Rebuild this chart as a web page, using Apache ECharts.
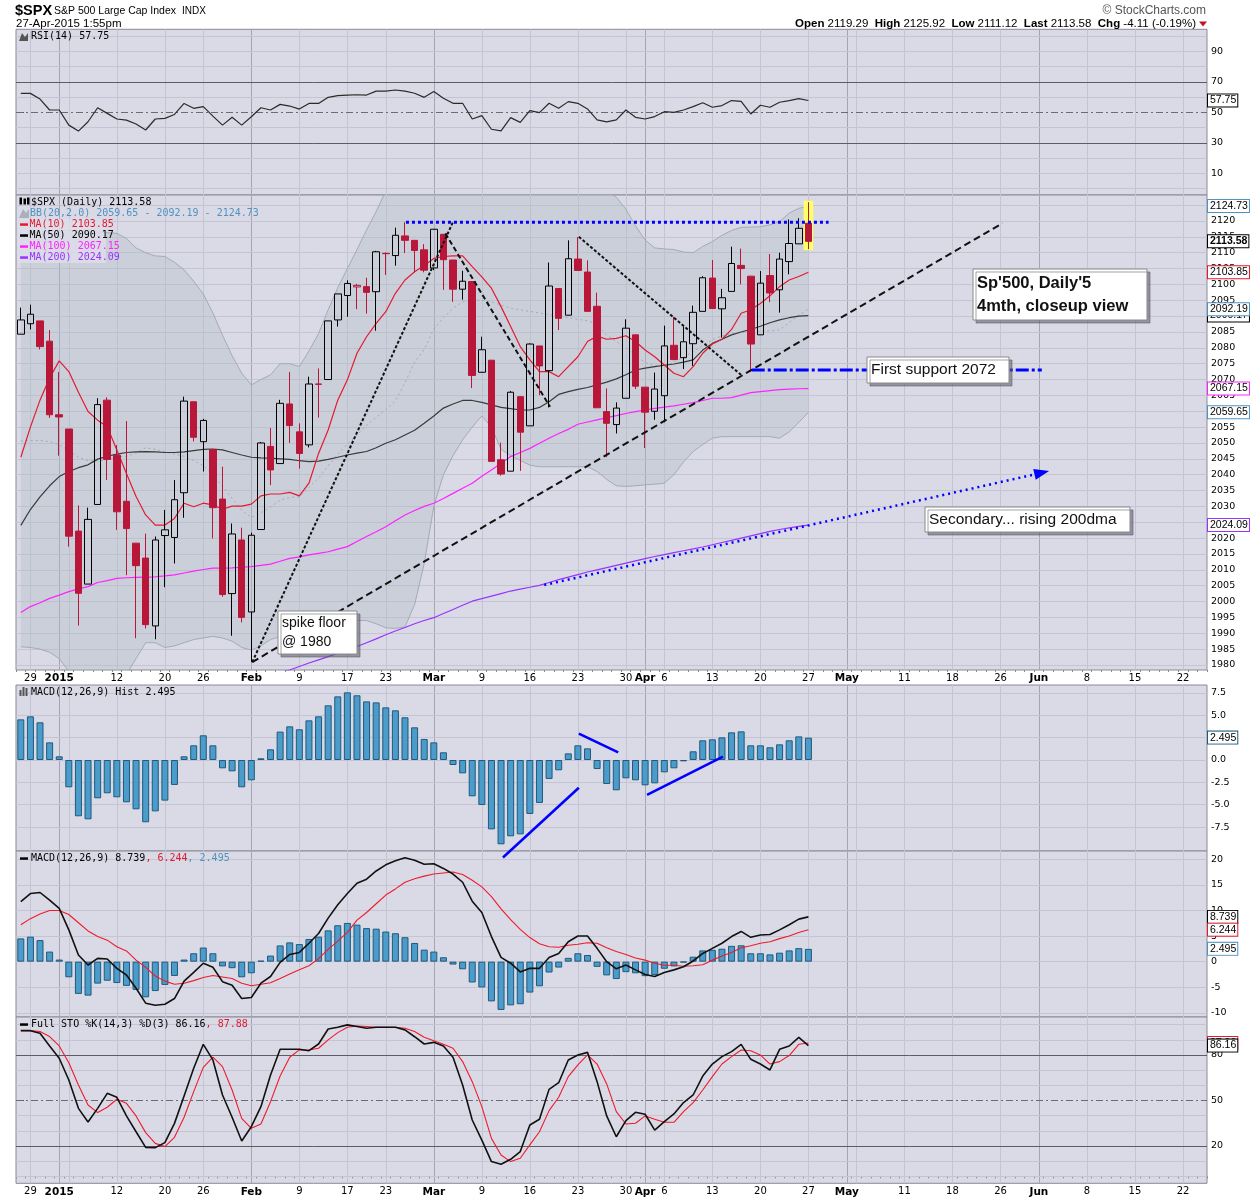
<!DOCTYPE html>
<html>
<head>
<meta charset="utf-8">
<title>$SPX S&amp;P 500 Large Cap Index - Daily</title>
<script src="https://cdn.jsdelivr.net/npm/echarts@6.0.0/dist/echarts.min.js"></script>
<style>
  html, body { margin: 0; padding: 0; background: #ffffff; }
  #chart { width: 1250px; height: 1200px; }
</style>
</head>
<body>
<div id="chart"></div>
<script>
// ---------- categories ----------
var dates = [
  '2014-12-26','2014-12-29','2014-12-30','2014-12-31',
  '2015-01-02','2015-01-05','2015-01-06','2015-01-07','2015-01-08','2015-01-09',
  '2015-01-12','2015-01-13','2015-01-14','2015-01-15','2015-01-16',
  '2015-01-20','2015-01-21','2015-01-22','2015-01-23',
  '2015-01-26','2015-01-27','2015-01-28','2015-01-29','2015-01-30',
  '2015-02-02','2015-02-03','2015-02-04','2015-02-05','2015-02-06',
  '2015-02-09','2015-02-10','2015-02-11','2015-02-12','2015-02-13',
  '2015-02-17','2015-02-18','2015-02-19','2015-02-20',
  '2015-02-23','2015-02-24','2015-02-25','2015-02-26','2015-02-27',
  '2015-03-02','2015-03-03','2015-03-04','2015-03-05','2015-03-06',
  '2015-03-09','2015-03-10','2015-03-11','2015-03-12','2015-03-13',
  '2015-03-16','2015-03-17','2015-03-18','2015-03-19','2015-03-20',
  '2015-03-23','2015-03-24','2015-03-25','2015-03-26','2015-03-27',
  '2015-03-30','2015-03-31','2015-04-01','2015-04-02',
  '2015-04-06','2015-04-07','2015-04-08','2015-04-09','2015-04-10',
  '2015-04-13','2015-04-14','2015-04-15','2015-04-16','2015-04-17',
  '2015-04-20','2015-04-21','2015-04-22','2015-04-23','2015-04-24',
  '2015-04-27'
];
var futureDates = [
  '2015-04-28','2015-04-29','2015-04-30','2015-05-01',
  '2015-05-04','2015-05-05','2015-05-06','2015-05-07','2015-05-08',
  '2015-05-11','2015-05-12','2015-05-13','2015-05-14','2015-05-15',
  '2015-05-18','2015-05-19','2015-05-20','2015-05-21','2015-05-22',
  '2015-05-26','2015-05-27','2015-05-28','2015-05-29',
  '2015-06-01','2015-06-02','2015-06-03','2015-06-04','2015-06-05',
  '2015-06-08','2015-06-09','2015-06-10','2015-06-11','2015-06-12',
  '2015-06-15','2015-06-16','2015-06-17','2015-06-18','2015-06-19',
  '2015-06-22','2015-06-23','2015-06-24'
];
var xTickLabels = {
  '2014-12-29':'29','2015-01-02':'2015','2015-01-12':'12','2015-01-20':'20','2015-01-26':'26',
  '2015-02-02':'Feb','2015-02-09':'9','2015-02-17':'17','2015-02-23':'23',
  '2015-03-02':'Mar','2015-03-09':'9','2015-03-16':'16','2015-03-23':'23','2015-03-30':'30',
  '2015-04-01':'Apr','2015-04-06':'6','2015-04-13':'13','2015-04-20':'20','2015-04-27':'27',
  '2015-05-01':'May','2015-05-11':'11','2015-05-18':'18','2015-05-26':'26',
  '2015-06-01':'Jun','2015-06-08':'8','2015-06-15':'15','2015-06-22':'22'
};
var boldTickLabels = ['2015','Feb','Mar','Apr','May','Jun'];
var weekLines = ['2014-12-29','2015-01-05','2015-01-12','2015-01-20','2015-01-26','2015-02-09','2015-02-17',
  '2015-02-23','2015-03-09','2015-03-16','2015-03-23','2015-03-30','2015-04-06','2015-04-13','2015-04-20',
  '2015-04-27','2015-05-04','2015-05-11','2015-05-18','2015-05-26','2015-06-08','2015-06-15','2015-06-22'];
var monthLines = ['2015-01-02','2015-02-02','2015-03-02','2015-04-01','2015-05-01','2015-06-01'];

// ---------- price ----------
var opens = [2084.3,2087.6,2088.5,2082.1,2058.9,2054.4,2022.2,2005.5,2030.6,2063.5,
  2046.1,2031.6,2018.4,2013.7,1992.3,2020.8,2020.2,2034.3,2063.0,2050.4,
  2047.9,2032.3,2002.5,2019.4,1996.7,2022.7,2048.9,2043.5,2062.3,2053.5,
  2049.4,2068.6,2070.0,2088.8,2096.5,2099.2,2099.3,2097.7,2109.8,2109.1,
  2115.3,2113.9,2110.9,2105.2,2115.8,2107.7,2098.5,2100.9,2072.3,2076.1,
  2044.7,2041.1,2064.6,2055.4,2080.6,2072.8,2098.7,2090.3,2108.0,2103.9,
  2093.1,2059.9,2055.8,2064.1,2084.1,2067.6,2060.0,2064.9,2080.8,2076.9,
  2081.3,2091.5,2102.0,2092.3,2097.8,2106.0,2102.6,2084.1,2102.8,2098.3,
  2107.2,2112.8,2119.29];
var highs = [2092.7,2093.6,2088.5,2085.6,2072.4,2054.4,2030.3,2029.6,2064.1,2064.4,
  2049.3,2056.9,2018.4,2021.4,2020.5,2028.9,2038.3,2064.6,2063.0,2057.6,
  2047.9,2042.5,2024.6,2023.3,2021.7,2050.3,2054.7,2063.6,2072.4,2056.2,
  2070.9,2073.5,2088.5,2097.0,2101.3,2100.2,2102.1,2110.6,2110.1,2117.9,
  2119.6,2113.9,2112.7,2117.5,2115.8,2107.7,2104.3,2100.9,2083.5,2076.1,
  2050.1,2066.4,2064.6,2081.4,2080.6,2106.9,2098.7,2113.9,2114.9,2107.6,
  2097.4,2067.2,2062.8,2089.0,2084.1,2067.6,2072.2,2087.0,2089.8,2086.7,
  2093.3,2102.6,2107.7,2098.6,2111.9,2111.3,2102.6,2104.2,2109.6,2110.0,
  2120.5,2120.9,2125.92];
var lows = [2084.3,2085.8,2079.5,2057.9,2046.0,2017.3,1992.4,2005.5,2030.6,2038.3,
  2022.6,2008.3,1988.4,1991.5,1988.1,2004.5,2012.0,2026.4,2050.5,2041.0,
  2019.9,2001.5,1989.2,1993.4,1980.9,2022.7,2036.7,2043.5,2050.0,2041.9,
  2048.6,2058.0,2070.0,2086.7,2089.8,2092.2,2090.8,2085.4,2103.0,2105.9,
  2109.9,2103.8,2103.8,2104.5,2098.3,2094.5,2095.2,2067.3,2072.2,2044.2,
  2039.7,2041.1,2041.2,2055.4,2065.1,2061.2,2085.6,2090.3,2104.4,2091.5,
  2061.1,2045.5,2053.0,2064.1,2067.0,2048.4,2057.3,2056.5,2076.1,2073.3,
  2074.3,2091.5,2092.3,2083.2,2097.8,2100.0,2072.4,2084.1,2094.4,2091.1,
  2103.2,2112.8,2111.12];
var closes = [2088.8,2090.6,2080.4,2058.9,2058.2,2020.6,2002.6,2025.9,2062.1,2044.8,
  2028.3,2023.0,2011.3,1992.7,2019.4,2022.6,2032.1,2063.2,2051.8,2057.1,
  2029.6,2002.2,2021.3,1995.0,2020.9,2050.0,2041.5,2062.5,2055.5,2046.7,
  2068.6,2068.5,2088.5,2097.0,2100.3,2099.7,2097.5,2110.3,2109.7,2115.5,
  2113.9,2110.7,2104.5,2117.4,2107.8,2098.5,2101.0,2071.3,2079.4,2044.2,
  2040.2,2066.0,2053.4,2081.2,2074.3,2099.5,2089.3,2108.1,2104.4,2091.5,
  2061.1,2056.2,2061.0,2086.2,2067.9,2059.7,2067.0,2080.6,2076.3,2081.9,
  2091.2,2102.1,2092.4,2095.8,2106.6,2105.0,2081.2,2100.4,2097.3,2108.0,
  2112.9,2117.7,2113.58];

// ---------- overlays ----------
var ma10 = [2045.5,2055,2063.5,2070.5,2075.9,2072.5,2066,2059.9,2057.2,2055.1,
  2047.8,2040.4,2033.1,2027.3,2024.1,2024.1,2026.2,2031.0,2029.9,2031.0,
  2030.5,2029.1,2030.1,2030.1,2030.7,2033.3,2033.9,2033.9,2034.4,2033.3,
  2037.3,2046.7,2054.1,2063.5,2069.9,2078.3,2083.5,2087.7,2091.4,2097.2,
  2101.4,2104.0,2106.0,2108.2,2108.8,2109.0,2109.0,2105.6,2102.4,2098.8,
  2093.0,2086.7,2080.4,2076.2,2072.5,2072.5,2070.9,2074.1,2077.2,2082.0,
  2083.7,2082.7,2083.0,2083.8,2082.0,2079.3,2077.2,2074.6,2072.0,2070.9,
  2074.1,2078.3,2081.2,2082.7,2085.8,2090.9,2092.0,2094.0,2096.4,2099.3,
  2101.4,2102.5,2103.85];
var ma50 = [2024,2029,2033,2036.5,2039.4,2041,2042.2,2043.1,2044.9,2045.8,
  2046.5,2047,2047.2,2047.3,2047.2,2047,2047,2047.2,2047.6,2048,
  2048.1,2047.8,2047,2046.2,2045.5,2045.3,2045.2,2045,2044.8,2044.4,
  2044.1,2044.3,2044.8,2045.5,2046.2,2046.8,2047.3,2048.5,2049.9,2051,
  2052.5,2054,2056.2,2058.5,2061,2062.3,2063.4,2063.4,2062.8,2062,
  2061.2,2060.8,2060.4,2060.4,2061.2,2063,2065.3,2066.2,2066.9,2067.5,
  2068.3,2069.2,2070.2,2071.5,2073,2073.6,2074.1,2074.5,2074.9,2075.5,
  2076.2,2079.3,2081.4,2082.7,2084.1,2085,2085.8,2086.8,2087.9,2088.8,
  2089.5,2090,2090.17];
var ma100 = [1996.5,1998.4,1999.6,2001.0,2002.0,2003.1,2004.0,2004.7,2006.0,2006.6,
  2007.3,2007.5,2007.6,2007.7,2007.8,2008.1,2008.4,2009.0,2009.6,2010.1,
  2010.5,2010.5,2010.6,2010.8,2011.0,2011.4,2011.8,2012.7,2013.6,2014.1,
  2014.7,2015.2,2015.7,2016.5,2017.3,2018.9,2020.5,2022.0,2023.6,2025.5,
  2027.3,2028.7,2030.0,2031.0,2032.5,2034.1,2035.7,2037.3,2039.5,2041.5,
  2043.6,2045.7,2047.0,2048.3,2049.9,2051.5,2053.0,2054.3,2055.9,2056.6,
  2057.3,2058.0,2058.6,2059.3,2059.9,2060.4,2060.9,2061.3,2061.7,2062.2,
  2062.7,2063.4,2064.1,2064.1,2064.3,2065.1,2065.9,2066.2,2066.5,2066.8,
  2067.0,2067.1,2067.15];
var ma200 = [1957.0,1957.8,1958.6,1959.4,1960.2,1961.0,1961.8,1962.6,1963.4,1964.2,
  1965.0,1965.8,1966.6,1967.4,1968.2,1969.0,1969.8,1970.6,1971.4,1972.2,
  1973.0,1973.7,1974.4,1975.1,1975.8,1976.5,1977.0,1977.6,1978.4,1979.5,
  1980.6,1981.6,1982.6,1983.7,1984.7,1985.8,1987.0,1988.2,1989.5,1990.7,
  1991.8,1993.0,1994.0,1994.9,1996.2,1997.5,1998.8,2000.1,2000.9,2001.7,
  2002.5,2003.3,2003.9,2004.5,2005.1,2006.0,2006.9,2007.7,2008.5,2009.3,
  2010.0,2010.7,2011.4,2012.1,2012.8,2013.5,2014.2,2014.8,2015.4,2016.0,
  2016.6,2017.2,2017.9,2018.6,2019.3,2020.0,2020.7,2021.4,2022.1,2022.7,
  2023.2,2023.7,2024.09];
var bbUpper = [2115.5,2116,2116.5,2116.8,2117,2117,2117,2116.8,2116.5,2116.3,
  2116.1,2114.5,2111.5,2110,2109,2108.8,2107,2104.6,2101,2097,
  2091,2084,2077.5,2072,2068.3,2070,2071.5,2075,2075,2074.1,
  2079,2084.5,2092,2099,2105,2111,2117.2,2123,2129.5,2135,
  2146,2152,2147,2142,2139,2139,2138,2135,2131.5,2134,
  2139,2139,2139.5,2140,2139.5,2138.5,2137.5,2136.5,2135.5,2134.5,
  2134,2129.5,2127.5,2123.7,2118.5,2114,2111.5,2111.2,2111,2110.2,
  2110,2112,2113.5,2115.5,2117,2118,2118.1,2118.2,2118.8,2119.8,
  2122.5,2124,2124.73];
var bbMid = [2050.6,2050.8,2050.8,2050.4,2049.5,2047.5,2045.5,2044.4,2044.3,2044.7,
  2045.6,2045.8,2046.8,2048.5,2048,2047.2,2046.5,2045.8,2044.5,2042.8,
  2040,2036.3,2032.5,2028.8,2026.5,2028,2029.8,2032,2032.8,2033,
  2036,2038.9,2042.8,2046.5,2049.6,2052.5,2055.6,2058,2060.6,2063.2,
  2069,2075.5,2079.5,2086,2089.5,2092.5,2094.5,2095,2095,2094.5,
  2093.5,2092.5,2092,2091.5,2091,2090.5,2090,2089.5,2089,2088.5,
  2087.5,2084,2082,2080,2077.5,2075.4,2074.3,2074.3,2075.5,2077.1,
  2078.7,2080.8,2082.5,2083.8,2084.5,2085,2085,2085.1,2085.4,2085.7,
  2088,2090.3,2092.19];
var bbLower = [1985.7,1985.5,1985,1984,1982,1978,1974,1972,1972,1973,
  1975,1977,1982,1987,1987,1985.5,1986,1987,1988,1988.5,
  1989,1988.5,1987.5,1985.5,1984.7,1986,1988,1989,1990.5,1992,
  1993,1993.2,1993.5,1994,1994.2,1994,1994,1993,1991.7,1991.5,
  1992,1999,2012,2030,2040,2046,2051,2055,2058.5,2055,
  2048,2046,2044.5,2043,2042.5,2042.5,2042.5,2042.5,2042.5,2042.5,
  2041,2038.5,2036.5,2036.3,2036.5,2036.8,2037,2037.3,2040,2044,
  2047.3,2049.5,2051.5,2052,2052,2052,2052,2052,2052,2051.5,
  2053.5,2056.5,2059.65];

// ---------- indicators ----------
var rsi = [62.4,62.4,58.7,51.5,51.5,41.6,37.7,43.8,53.0,49.3,
  45.6,44.9,42.3,38.4,45.6,46.0,48.6,55.8,52.6,53.7,
  47.5,41.6,46.7,41.6,47.1,53.0,51.5,55.2,54.1,52.1,
  55.8,55.8,59.8,60.9,61.3,61.5,61.3,63.9,63.9,64.6,
  63.9,62.5,59.8,63.6,59.2,55.9,55.9,45.6,47.8,38.9,
  37.8,46.5,43.4,51.1,49.8,55.9,52.6,57.0,55.9,52.2,
  45.0,43.7,45.0,51.5,46.7,45.6,47.2,50.4,50.0,51.5,
  53.7,56.3,53.3,54.4,57.7,57.2,48.9,54.6,53.3,56.6,
  57.7,59.0,57.75];
var macdLine = [11.7,13.3,13.5,12.0,10.4,6.2,1.3,-0.65,0.65,0.52,
  -1.3,-2.6,-5.2,-8.1,-8.5,-8.3,-7.2,-3.8,-2.1,-0.3,
  -1.1,-3.9,-4.6,-7.2,-7.0,-4.2,-2.9,-0.13,1.4,1.8,
  3.6,5.5,8.5,11.1,13.3,15.3,16.1,17.7,18.9,19.7,
  20.3,19.8,19.0,19.1,18.2,17.1,15.5,11.8,9.6,4.9,
  0.85,-0.3,-2.0,-1.3,-1.3,0.8,1.6,3.9,5.0,5.0,
  2.6,0.0,-1.4,-0.65,-1.6,-2.5,-2.9,-2.1,-1.6,-1.0,
  0.13,1.6,2.6,3.6,4.9,5.9,4.75,5.2,5.3,6.2,
  7.2,8.3,8.739];
var macdSignal = [7.2,8.4,9.3,10.0,10.0,9.2,7.6,6.0,4.9,4.2,
  2.9,2.1,0.3,-1.1,-2.8,-3.8,-4.4,-4.2,-3.7,-3.1,
  -2.7,-3.0,-3.3,-4.2,-4.7,-4.4,-4.1,-3.3,-2.4,-1.6,
  -0.8,0.6,2.4,4.0,5.7,8.1,9.6,11.3,13.0,14.2,
  15.5,16.2,16.7,17.1,17.3,17.5,17.0,15.9,14.6,12.7,
  10.3,8.2,6.3,4.7,3.5,2.9,2.8,3.2,3.4,3.7,
  3.6,2.7,2.0,1.4,0.7,0.3,-0.3,-0.7,-0.7,-0.9,
  -0.8,-0.6,0.3,1.1,1.8,2.7,3.1,3.6,3.9,4.5,
  5.0,5.7,6.244];
var macdHist = [4.54,4.88,4.21,1.97,0.41,-3.05,-6.29,-6.63,-4.28,-3.72,
  -4.17,-4.73,-5.51,-6.96,-5.74,-4.54,-2.79,0.41,1.64,2.76,
  1.64,-0.93,-1.27,-3.05,-2.27,0.19,1.19,3.17,3.76,3.43,
  4.43,4.88,6.11,7.11,7.56,7.23,6.55,6.44,5.88,5.55,
  4.77,3.65,2.35,1.97,0.86,-0.56,-1.49,-4.06,-5.03,-7.75,
  -9.42,-8.53,-8.31,-6.03,-4.80,-2.12,-1.15,0.74,1.64,1.30,
  -1.01,-2.68,-3.39,-2.05,-2.27,-2.83,-2.61,-1.38,-0.93,-0.15,
  0.97,2.20,2.31,2.53,3.09,3.20,1.64,1.64,1.42,1.75,
  2.20,2.64,2.495];
var stoK = [96.0,96.0,94.3,85.9,77.8,63.5,44.8,35.8,44.8,54.7,
  52.1,39.8,29.4,19.1,18.9,22.2,34.9,53.0,71.2,87.0,
  76.7,53.6,38.9,23.3,32.7,45.9,66.8,83.7,83.7,83.7,
  82.8,87.2,97.1,98.2,99.8,98.7,97.6,98.2,98.2,98.2,
  96.5,92.0,87.2,88.3,85.9,78.5,60.2,37.1,23.9,9.7,
  7.9,11.2,16.3,33.8,37.6,57.3,61.7,76.7,80.0,81.7,
  62.4,39.8,26.1,36.7,42.2,40.9,30.5,36.0,41.1,48.6,
  53.6,66.1,74.0,78.9,82.2,87.0,77.1,74.0,70.1,83.7,
  85.9,91.6,86.16];
var stoD = [96.0,96.0,95.4,92.1,85.9,74.9,60.2,47.0,42.0,45.5,
  50.8,48.1,39.8,28.8,21.7,19.6,25.7,38.9,55.8,71.8,
  78.5,72.3,56.9,38.2,31.6,34.5,49.2,66.1,78.5,83.3,
  83.3,84.4,89.9,94.7,98.2,99.1,98.7,98.2,98.2,98.2,
  97.6,95.4,91.6,89.4,87.0,84.4,75.6,62.4,45.9,25.0,
  14.1,9.7,11.9,20.7,29.4,43.3,52.1,65.7,73.4,80.0,
  74.0,60.9,42.6,34.5,35.0,39.8,37.6,35.6,35.6,42.6,
  48.6,56.9,65.7,74.0,78.9,83.3,82.8,80.0,74.0,75.6,
  79.6,87.0,87.88];

// ---------- axis ticks ----------
var rsiTicks = [10, 30, 50, 70, 90];
var priceTicks = [1980,1985,1990,1995,2000,2005,2010,2015,2020,2025,2030,2035,2040,2045,2050,
  2055,2060,2065,2070,2075,2080,2085,2090,2095,2100,2105,2110,2115,2120,2125];
var histTicks = [-7.5, -5, -2.5, 0, 2.5, 5, 7.5];
var macdTicks = [-10, -5, 0, 5, 10, 15, 20];
var stoTicks = [20, 50, 80];

// ---------- hand-drawn annotations: [day index, value] ----------
var resistanceLine = [[40.1, 2119.6], [84.1, 2119.6]];
var spikeRiseLine = [[24.1, 1980.9], [45.0, 2119.7]];
var marchDownLine = [[44.2, 2116.1], [55.1, 2061.4]];
var lateMarchDownLine = [[58.1, 2115.0], [75.1, 2071.2]];
var risingSupportLine = [[24.1, 1980.9], [102.2, 2119.3]];
var firstSupportLine = [[76.1, 2073.0], [106.3, 2073.0]];
var ma200Projection = [[54.5, 2005.2], [106.3, 2040.6]];
var histLineA = [[50.2, -10.9], [58.1, -3.1]];
var histLineB = [[58.1, 2.94], [62.2, 0.86]];
var histLineC = [[65.2, -3.91], [73.1, 0.37]];
var lastBarBox = [[82, 2126.4, 2110.8]];

// ---------- styling ----------
var allDates = dates.concat(futureDates);
var N = allDates.length;
var BG = '#dadae6', GRID = '#c4c4d3', MONTH = '#a4a4b4', RED = '#b8173a';
var TICK_FONT = 'DejaVu Sans';
var MONO = 'DejaVu Sans Mono';
var SANS = 'Liberation Sans';
var BB_BLUE = '#4f93c0';
var CLEAR = 'rgba(0,0,0,0)';

var panels = [
  { top: 29.3, height: 165.7, min: -4.2, max: 104.4, ticks: rsiTicks },
  { top: 195, height: 475, min: 1978.4, max: 2128.2, ticks: priceTicks },
  { top: 685, height: 166, min: -10.17, max: 8.38, ticks: histTicks },
  { top: 851, height: 166, min: -10.8, max: 21.6, ticks: macdTicks },
  { top: 1017, height: 166.3, min: -4.6, max: 105.0, ticks: stoTicks }
];

function xLabel(show) {
  return {
    show: show, margin: 3, fontSize: 10, color: '#000', fontFamily: TICK_FONT,
    interval: function (i, v) { return xTickLabels[v] !== undefined; },
    formatter: function (v) {
      var t = xTickLabels[v];
      if (t === undefined) return '';
      return boldTickLabels.indexOf(t) >= 0 ? '{b|' + t + '}' : t;
    },
    rich: { b: { fontWeight: 'bold', fontSize: 10.5, color: '#000', fontFamily: TICK_FONT } }
  };
}

function hLines(values, color, type) {
  return values.map(function (v) {
    return { yAxis: v, lineStyle: { color: color, width: 1, type: type || 'solid' }, label: { show: false } };
  });
}
function hLabels(values, fmt) {
  return values.map(function (v) {
    return { yAxis: v, lineStyle: { color: CLEAR, width: 0, opacity: 1 },
      label: { show: true, position: 'end', distance: 4, formatter: fmt(v), color: '#000', opacity: 1,
               fontSize: 9.5, fontFamily: TICK_FONT } };
  });
}
function vLines() {
  return weekLines.map(function (d) {
    return { xAxis: allDates.indexOf(d), lineStyle: { color: GRID, width: 1, type: 'solid' }, label: { show: false } };
  }).concat(monthLines.map(function (d) {
    return { xAxis: allDates.indexOf(d), lineStyle: { color: MONTH, width: 1, type: 'solid' }, label: { show: false } };
  }));
}
function frame(g, items) {
  return { type: 'line', xAxisIndex: 2 * g + 1, yAxisIndex: g, data: [], z: 1, silent: true, clip: false,
    markLine: { silent: true, z: 1, symbol: ['none', 'none'], label: { show: false }, data: items } };
}
function box(v, color, bold) {
  return { yAxis: v, lineStyle: { color: CLEAR, width: 0, opacity: 1 },
    label: { show: true, position: 'end', distance: 1, formatter: String(v), backgroundColor: '#fff',
      borderColor: color, borderWidth: 1, padding: [1, 1, 0, 2], color: '#000', fontSize: 10.5, opacity: 1,
      fontWeight: bold ? 'bold' : 'normal', fontFamily: SANS } };
}
function boxes(g, items) {
  return { type: 'line', xAxisIndex: 2 * g + 1, yAxisIndex: g, data: [], z: 20, silent: true, clip: false,
    markLine: { silent: true, z: 20, symbol: ['none', 'none'], label: { show: false }, data: items } };
}
function trend(g, pts, color, width, type, extra) {
  var s = { type: 'line', xAxisIndex: 2 * g + 1, yAxisIndex: g, data: pts, symbol: 'none', z: 8,
    silent: true, lineStyle: { color: color, width: width, type: type } };
  for (var k in (extra || {})) s[k] = extra[k];
  return s;
}
function plain(g, data, color, width, type, z) {
  return { type: 'line', xAxisIndex: 2 * g, yAxisIndex: g, data: data, symbol: 'none', z: z || 4,
    silent: true, lineStyle: { color: color, width: width, type: type || 'solid' } };
}
function fmt1(v) { return v.toFixed(1); }
function fmt0(v) { return String(v); }

function candleStyle(i) {
  var prev = i > 0 ? closes[i - 1] : -Infinity;
  var col = closes[i] >= prev ? '#000' : RED;
  var hollow = closes[i] > opens[i];
  var fill = hollow ? CLEAR : col;
  return { color: fill, color0: fill, borderColor: col, borderColor0: col, borderWidth: 1 };
}

var option = {
  animation: false,
  backgroundColor: '#ffffff',
  grid: panels.map(function (p) {
    return { left: 16, right: 43, top: p.top, height: p.height, show: true, backgroundColor: BG,
      borderColor: '#8a8a96', borderWidth: 1 };
  }),
  xAxis: [],
  yAxis: [],
  series: []
};

panels.forEach(function (p, g) {
  var lab = (g === 1 || g === 4);
  option.xAxis.push({ type: 'category', gridIndex: g, data: allDates, boundaryGap: true,
    axisLine: { show: false }, axisTick: { show: lab, interval: 0, length: 2, lineStyle: { color: '#888' } },
    axisLabel: xLabel(lab), splitLine: { show: false } });
  option.xAxis.push({ type: 'value', gridIndex: g, min: -0.5, max: N - 0.5, show: false });
  option.yAxis.push({ type: 'value', gridIndex: g, min: p.min, max: p.max, position: 'right',
    axisLine: { show: false },
    axisTick: { show: true, customValues: p.ticks, length: 3, inside: false, lineStyle: { color: '#333' } },
    axisLabel: { show: false }, splitLine: { show: false } });
});

var S = option.series;

// RSI panel
S.push(frame(0, vLines()
  .concat(hLines([0, 10, 20, 40, 60, 80, 90, 100], GRID))
  .concat(hLines([30, 70], '#5c5c66'))
  .concat(hLines([50], '#6a6a70', [7, 3, 2, 3]))
  .concat(hLabels(rsiTicks, fmt0))));
S.push(plain(0, rsi, '#2a2a2a', 1.2));
S.push(boxes(0, [box(57.75, '#000')]));

// price panel
S.push(frame(1, vLines().concat(hLines(priceTicks, GRID)).concat(hLabels(priceTicks, fmt0))));
S.push({ type: 'line', xAxisIndex: 2, yAxisIndex: 1, data: bbLower, stack: 'bb', symbol: 'none', z: 2,
  silent: true, lineStyle: { color: '#a3abb6', width: 1 } });
S.push({ type: 'line', xAxisIndex: 2, yAxisIndex: 1, stack: 'bb', symbol: 'none', z: 2, silent: true,
  data: bbUpper.map(function (u, i) { return +(u - bbLower[i]).toFixed(2); }),
  lineStyle: { color: '#a3abb6', width: 1 }, areaStyle: { color: 'rgba(176,190,196,0.52)' } });
S.push(plain(1, bbMid, '#a2a9b8', 1, [2, 3], 3));
S.push(plain(1, ma200, '#9933ff', 1.2));
S.push(plain(1, ma100, '#ff22ff', 1.2));
S.push(plain(1, ma50, '#3a3a3a', 1.2));
S.push(plain(1, ma10, '#e41a30', 1.2));
S.push({ type: 'custom', xAxisIndex: 3, yAxisIndex: 1, z: 3, silent: true, data: lastBarBox,
  encode: { x: 0, y: [1, 2] },
  renderItem: function (params, api) {
    var a = api.coord([api.value(0) - 0.5, api.value(1)]);
    var b = api.coord([api.value(0) + 0.5, api.value(2)]);
    return { type: 'rect', shape: { x: a[0], y: a[1], width: b[0] - a[0], height: b[1] - a[1] },
      style: { fill: '#ffff66' } };
  } });
S.push({ type: 'candlestick', xAxisIndex: 2, yAxisIndex: 1, barWidth: 7, z: 5, silent: true,
  data: opens.map(function (o, i) {
    return { value: [o, closes[i], lows[i], highs[i]], itemStyle: candleStyle(i) };
  }) });
S.push(trend(1, resistanceLine, '#0000ff', 3, [3, 3]));
S.push(trend(1, spikeRiseLine, '#111', 2, [3, 2]));
S.push(trend(1, marchDownLine, '#111', 2, [5, 3]));
S.push(trend(1, lateMarchDownLine, '#111', 2, [3, 2]));
S.push(trend(1, risingSupportLine, '#111', 2, [7, 4]));
S.push(trend(1, firstSupportLine, '#0000ff', 3, [13, 3, 3, 3]));
S.push(trend(1, [
  { value: ma200Projection[0], symbol: 'none' },
  { value: ma200Projection[1], symbol: 'triangle', symbolSize: [11, 15], symbolRotate: -77 }
], '#0000ff', 2.5, [2, 4], { showSymbol: true, itemStyle: { color: '#0000ff' } }));
S.push(boxes(1, [
  box(2124.73, BB_BLUE), box(2090.17, '#000'), box(2092.19, BB_BLUE), box(2113.58, '#000', true),
  box(2103.85, '#e41a30'), box(2067.15, '#ff22ff'), box(2059.65, BB_BLUE), box(2024.09, '#9933ff')
]));

// MACD histogram panel
S.push(frame(2, vLines().concat(hLines(histTicks, GRID)).concat(hLabels(histTicks, fmt1))));
S.push({ type: 'bar', xAxisIndex: 4, yAxisIndex: 2, data: macdHist, barWidth: 7, z: 3, silent: true,
  itemStyle: { color: '#4b9bcb', borderColor: '#1f5a7c', borderWidth: 1 } });
S.push(trend(2, histLineA, '#0000ff', 2.5, 'solid', { clip: false }));
S.push(trend(2, histLineB, '#0000ff', 2.5, 'solid'));
S.push(trend(2, histLineC, '#0000ff', 2.5, 'solid'));
S.push(boxes(2, [box(2.495, '#1f5a7c')]));

// MACD panel
S.push(frame(3, vLines().concat(hLines(macdTicks, GRID)).concat(hLabels(macdTicks, fmt0))));
S.push({ type: 'bar', xAxisIndex: 6, yAxisIndex: 3, data: macdHist, barWidth: 7, z: 3, silent: true,
  itemStyle: { color: '#4b9bcb', borderColor: '#1f5a7c', borderWidth: 1 } });
S.push(plain(3, macdSignal, '#f01a2a', 1.1));
S.push(plain(3, macdLine, '#111', 1.6));
S.push(boxes(3, [box(8.739, '#000'), box(6.244, '#e41a30'), box(2.495, BB_BLUE)]));

// Full stochastics panel
S.push(frame(4, vLines()
  .concat(hLines([0, 10, 30, 40, 60, 70, 90, 100], GRID))
  .concat(hLines([20, 80], '#5c5c66'))
  .concat(hLines([50], '#6a6a70', [7, 3, 2, 3]))
  .concat(hLabels(stoTicks, fmt0))));
S.push(plain(4, stoD, '#f01a2a', 1.1));
S.push(plain(4, stoK, '#111', 1.6));
S.push(boxes(4, [box(87.88, '#e41a30'), box(86.16, '#000')]));

// ---------- texts ----------
function t(x, y, text, font, fill, align, rich) {
  var st = { text: text, font: font, fill: fill || '#000', align: align || 'left', verticalAlign: 'middle',
    textAlign: align || 'left', textVerticalAlign: 'middle' };
  if (rich) st.rich = rich;
  return { type: 'text', x: x, y: y, z: 100, silent: true, style: st };
}
function dash(x, y, color) {
  return { type: 'rect', z: 100, silent: true, shape: { x: x, y: y - 1, width: 8, height: 2.5 }, style: { fill: color } };
}
function note(x, y, w, h, lines, font, lh) {
  var els = [{ type: 'rect', z: 100, silent: true, shape: { x: x, y: y, width: w, height: h },
    style: { fill: '#ffffff', stroke: '#8a8a8a', lineWidth: 1, shadowColor: 'rgba(90,90,100,0.55)',
             shadowOffsetX: 3, shadowOffsetY: 3, shadowBlur: 0 } }];
  lines.forEach(function (s, k) {
    els.push(t(x + 4, y + h / 2 + (k - (lines.length - 1) / 2) * lh, s, font, '#111'));
  });
  return els;
}
var legendFont = '10px ' + MONO;
var g = [];
g.push(t(15, 11, '$SPX', 'bold 14.5px ' + SANS));
g.push(t(54, 11, 'S&P 500 Large Cap Index', '10.5px ' + SANS));
g.push(t(182, 11.5, 'INDX', '10px ' + SANS));
g.push(t(16, 23.5, '27-Apr-2015 1:55pm', '11.5px ' + SANS));
g.push(t(1206, 10.5, '\u00a9 StockCharts.com', '12px ' + SANS, '#555', 'right'));
g.push(t(1196, 23.5, '{b|Open} 2119.29  {b|High} 2125.92  {b|Low} 2111.12  {b|Last} 2113.58  {b|Chg} -4.11 (-0.19%)',
  '11.5px ' + SANS, '#000', 'right', { b: { font: 'bold 11.5px ' + SANS, fill: '#000' } }));
g.push({ type: 'polygon', z: 100, silent: true, shape: { points: [[1199, 21.5], [1207, 21.5], [1203, 26.5]] },
  style: { fill: '#c8102e' } });

// RSI legend
g.push({ type: 'polygon', z: 100, silent: true, shape: { points: [[19, 41], [22, 33], [25, 37], [28, 33], [28, 41]] },
  style: { fill: '#555' } });
g.push(t(31, 36, 'RSI(14) 57.75', legendFont));

// price legend
g.push({ type: 'rect', z: 99, silent: true, shape: { x: 17, y: 219, width: 89, height: 44 },
  style: { fill: 'rgba(221,221,233,0.85)' } });
g.push({ type: 'rect', z: 100, silent: true, shape: { x: 19.5, y: 197.5, width: 2.5, height: 7 }, style: { fill: '#000' } });
g.push({ type: 'rect', z: 100, silent: true, shape: { x: 23.5, y: 198.5, width: 2.5, height: 6 }, style: { fill: '#000' } });
g.push({ type: 'rect', z: 100, silent: true, shape: { x: 27, y: 197.5, width: 2.5, height: 7 }, style: { fill: '#000' } });
g.push(t(31, 202.3, '$SPX (Daily) 2113.58', legendFont));
g.push({ type: 'polygon', z: 100, silent: true, shape: { points: [[19, 218], [23, 209], [26, 213], [29, 209], [29, 218]] },
  style: { fill: '#a8b0bc' } });
g.push(t(30, 213.3, 'BB(20,2.0) 2059.65 - 2092.19 - 2124.73', legendFont, BB_BLUE));
g.push(dash(20, 224.3, '#e41a30'));
g.push(t(29.5, 224.3, 'MA(10) 2103.85', legendFont, '#e41a30'));
g.push(dash(20, 235.3, '#000'));
g.push(t(29.5, 235.3, 'MA(50) 2090.17', legendFont, '#000'));
g.push(dash(20, 246.3, '#ff22ff'));
g.push(t(29.5, 246.3, 'MA(100) 2067.15', legendFont, '#ff22ff'));
g.push(dash(20, 257.3, '#9933ff'));
g.push(t(29.5, 257.3, 'MA(200) 2024.09', legendFont, '#9933ff'));

// histogram legend
g.push({ type: 'rect', z: 100, silent: true, shape: { x: 19.5, y: 690, width: 2, height: 6 }, style: { fill: '#555' } });
g.push({ type: 'rect', z: 100, silent: true, shape: { x: 22.5, y: 687, width: 2, height: 9 }, style: { fill: '#555' } });
g.push({ type: 'rect', z: 100, silent: true, shape: { x: 25.5, y: 688, width: 2, height: 8 }, style: { fill: '#555' } });
g.push(t(31, 692, 'MACD(12,26,9) Hist 2.495', legendFont));

// MACD legend
g.push(dash(20, 858.3, '#000'));
g.push(t(31, 858.3, '{k|MACD(12,26,9) 8.739}{r|, 6.244}{c|, 2.495}', legendFont, '#000', 'left',
  { k: { font: legendFont, fill: '#000' }, r: { font: legendFont, fill: '#e41a30' }, c: { font: legendFont, fill: BB_BLUE } }));

// STO legend
g.push(dash(20, 1024.3, '#000'));
g.push(t(31, 1024.3, '{k|Full STO %K(14,3) %D(3) 86.16}{r|, 87.88}', legendFont, '#000', 'left',
  { k: { font: legendFont, fill: '#000' }, r: { font: legendFont, fill: '#e41a30' } }));

// note boxes
g = g.concat(note(278, 611, 79, 43, ['spike floor', '@ 1980'], '14px ' + SANS, 19));
g = g.concat(note(973, 269, 174, 51, ["Sp'500, Daily'5", '4mth, closeup view'], 'bold 16.5px ' + SANS, 23));
g = g.concat(note(867, 357, 142, 26, ['First support 2072'], '15.5px ' + SANS, 18));
g = g.concat(note(925, 507, 205, 25, ['Secondary... rising 200dma'], '15.5px ' + SANS, 18));

option.graphic = { elements: g };

var chart = echarts.init(document.getElementById('chart'));
chart.setOption(option);
</script>
</body>
</html>
